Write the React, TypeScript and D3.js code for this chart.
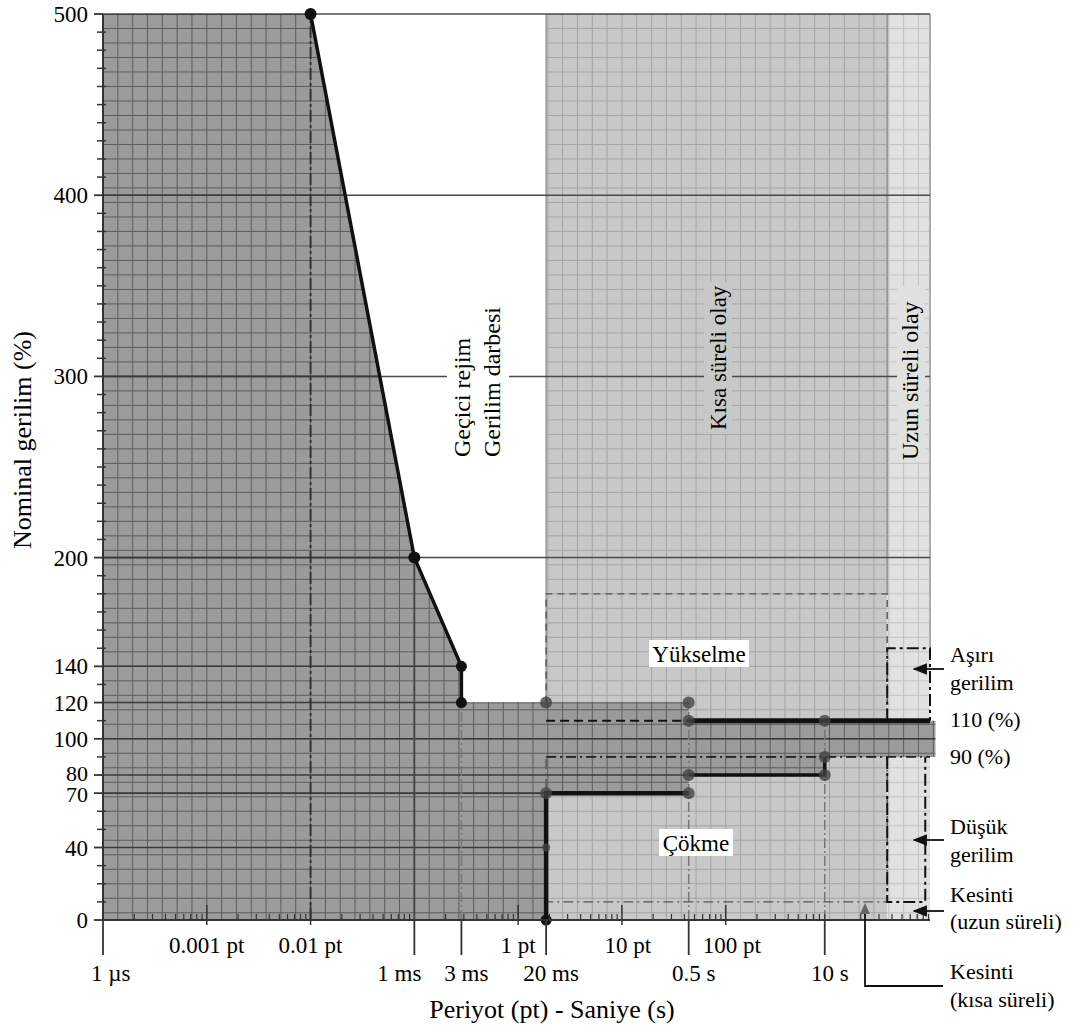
import React from 'react';
import * as d3 from 'd3';

const W = 1085;
const H = 1031;
const FONT = '"Liberation Serif", "Times New Roman", serif';

// pt = one 50 Hz period (20 ms). Seconds marks sit where the drawing places them on the pt axis
const T_1US = 1e-4;
const T_001PT = 0.01;
const T_1MS = 0.1;
const T_3MS = 0.284;
const T_20MS = 1.86;
const T_05S = 44;
const T_10S = 900;
const T_1MIN = 3600;
const T_END = 9300;
const T_BAND_END = 1.05e4;

const yTicks = [0, 40, 70, 80, 100, 120, 140, 200, 300, 400, 500];
const ptTicks = [0.001, 0.01, 1, 10, 100];
const ptTickLabels = ['0.001 pt', '0.01 pt', '1 pt', '10 pt', '100 pt'];
const secTicks = [T_1US, T_1MS, T_3MS, T_20MS, T_05S, T_10S];
const secTickLabels = ['1 µs', '1 ms', '3 ms', '20 ms', '0.5 s', '10 s'];

type P = [number, number];

// dark area: transient + tolerance band
const darkArea: P[] = [
  [T_1US, 0], [T_1US, 500], [T_001PT, 500], [T_1MS, 200], [T_3MS, 140], [T_3MS, 120],
  [T_05S, 120], [T_05S, 110], [T_BAND_END, 110], [T_BAND_END, 90], [T_10S, 90],
  [T_10S, 80], [T_05S, 80], [T_05S, 70], [T_20MS, 70], [T_20MS, 0],
];

const transientEdge: P[] = [[T_001PT, 500], [T_1MS, 200], [T_3MS, 140], [T_3MS, 120]];
const sagEdge: P[] = [[T_20MS, 0], [T_20MS, 70], [T_05S, 70]];
const lowEdge: P[] = [[T_05S, 80], [T_10S, 80], [T_10S, 90]];
const highEdge: P[] = [[T_05S, 110], [T_END, 110]];
const dashed110: P[] = [[T_20MS, 110], [T_05S, 110]];

const swellBox: P[] = [[T_20MS, 120], [T_20MS, 180], [T_1MIN, 180], [T_1MIN, 110]];
const sagBox: P[] = [[T_20MS, 90], [T_1MIN, 90], [T_1MIN, 10], [T_20MS, 10], [T_20MS, 90]];
const overBox: P[] = [[T_1MIN, 110], [T_1MIN, 150], [T_END, 150], [T_END, 110]];
const underBox: P[] = [[T_1MIN, 90], [T_1MIN, 10], [T_END * 0.9, 10], [T_END * 0.9, 90]];

const blackDots: P[] = [[T_001PT, 500], [T_1MS, 200], [T_3MS, 140], [T_3MS, 120], [T_20MS, 0]];
const grayDots: P[] = [
  [T_20MS, 120], [T_20MS, 70], [T_20MS, 40], [T_05S, 120], [T_05S, 110], [T_05S, 80],
  [T_05S, 70], [T_10S, 110], [T_10S, 90], [T_10S, 80],
];

const rightLabels = ['Aşırı', 'gerilim', '110 (%)', '90 (%)', 'Düşük', 'gerilim', 'Kesinti', '(uzun süreli)', 'Kesinti', '(kısa süreli)'];

export default function App() {
  const x = d3.scaleLog().domain([T_1US, T_END]).range([103, 930]);
  const y = d3.scaleLinear().domain([0, 500]).range([920, 14]);
  const line = d3.line<P>().x(d => x(d[0])).y(d => y(d[1]));

  const gridV = d3.range(0, 57).map(k => T_1US * Math.pow(10, k / 7));
  const gridH = d3.range(500, 0, -8);
  const minorY = d3.range(10, 500, 10).filter(v => !yTicks.includes(v));
  const minorX: number[] = [];
  for (let e = -4; e <= 3; e++) {
    for (let m = 2; m <= 9; m++) {
      const v = m * Math.pow(10, e);
      if (v < T_END) minorX.push(v);
    }
  }

  const grid = (stroke: string, clip: string) => (
    <g clipPath={`url(#${clip})`} stroke={stroke} strokeWidth={1}>
      {gridV.map((v, i) => <line key={'v' + i} x1={x(v)} x2={x(v)} y1={y(500)} y2={y(0)} />)}
      {gridH.map((v, i) => <line key={'h' + i} x1={x(T_1US)} x2={x(T_BAND_END)} y1={y(v)} y2={y(v)} />)}
    </g>
  );

  // 1 µs label sits right of its tick, 1 ms left of it, the rest centred
  const secAnchor = (i: number) => (i === 0 ? 'start' : i === 1 ? 'end' : 'middle');
  const secShift = (i: number) => (i === 0 ? -12 : i === 1 ? 7 : 5);

  const x20 = x(T_20MS), x1m = x(T_1MIN), xEnd = x(T_END);

  return (
    <svg width={W} height={H} style={{ position: 'absolute', left: 0, top: 0, background: '#fff' }} fontFamily={FONT}>
      <defs>
        <clipPath id="clipShort"><rect x={x20} y={y(500)} width={x1m - x20} height={y(0) - y(500)} /></clipPath>
        <clipPath id="clipLong"><rect x={x1m} y={y(500)} width={xEnd - x1m} height={y(0) - y(500)} /></clipPath>
        <clipPath id="clipDark"><path d={line(darkArea) + 'Z'} /></clipPath>
        <marker id="arr" viewBox="0 0 10 10" refX="9" refY="5" markerWidth="8" markerHeight="8" orient="auto-start-reverse">
          <path d="M0,1 L10,5 L0,9 Z" fill="#111" />
        </marker>
      </defs>

      {/* short and long duration zones */}
      <rect x={x20} y={y(500)} width={x1m - x20} height={y(0) - y(500)} fill="#c8c8c8" />
      <rect x={x1m} y={y(500)} width={xEnd - x1m} height={y(0) - y(500)} fill="#e1e1e1" />
      {grid('#a4a4a4', 'clipShort')}
      {grid('#c2c2c2', 'clipLong')}
      <line x1={x20} x2={x20} y1={y(500)} y2={y(120)} stroke="#9a9a9a" strokeWidth={1.5} />
      <line x1={x1m} x2={x1m} y1={y(500)} y2={y(180)} stroke="#9a9a9a" strokeWidth={2} />
      <line x1={xEnd} x2={xEnd} y1={y(500)} y2={y(150)} stroke="#aaa" strokeWidth={2} />

      {/* dark zone */}
      <path d={line(darkArea) + 'Z'} fill="#9b9b9b" />
      {grid('#5c5c5c', 'clipDark')}

      {/* major horizontal lines */}
      {yTicks.filter(v => v >= 200).map(v => (
        <line key={'M' + v} x1={x(T_1US)} x2={xEnd} y1={y(v)} y2={y(v)} stroke="#4a4a4a" strokeWidth={1.5} />
      ))}
      <g clipPath="url(#clipDark)">
        {yTicks.filter(v => v > 0).map(v => (
          <line key={'m' + v} x1={x(T_1US)} x2={x(T_BAND_END)} y1={y(v)} y2={y(v)} stroke="#3a3a3a" strokeWidth={1.6} />
        ))}
      </g>

      {/* vertical guides */}
      <line x1={x(T_001PT)} x2={x(T_001PT)} y1={y(0)} y2={y(500)} stroke="#333" strokeWidth={2} strokeDasharray="12,3,3,3" />
      <line x1={x(T_1MS)} x2={x(T_1MS)} y1={y(0)} y2={y(200)} stroke="#444" strokeWidth={1.8} />
      <line x1={x(T_3MS)} x2={x(T_3MS)} y1={y(0)} y2={y(120)} stroke="#777" strokeWidth={1.5} strokeDasharray="10,3,2,3" />
      <line x1={x(T_05S)} x2={x(T_05S)} y1={y(0)} y2={y(120)} stroke="#777" strokeWidth={1.5} strokeDasharray="10,3,2,3" />
      <line x1={x(T_10S)} x2={x(T_10S)} y1={y(0)} y2={y(110)} stroke="#777" strokeWidth={1.5} strokeDasharray="10,3,2,3" />

      {/* event boxes */}
      <path d={line(swellBox)!} fill="none" stroke="#555" strokeWidth={1.4} strokeDasharray="7,5" />
      <path d={line(sagBox)!} fill="none" stroke="#555" strokeWidth={1.4} strokeDasharray="10,4,2,4" />
      <path d={line(dashed110)!} fill="none" stroke="#111" strokeWidth={2} strokeDasharray="9,5" />
      <line x1={x20} x2={xEnd} y1={y(90)} y2={y(90)} stroke="#222" strokeWidth={1.8} strokeDasharray="10,4,2,4" />
      <path d={line(overBox)!} fill="none" stroke="#111" strokeWidth={2} strokeDasharray="12,4,3,4" />
      <path d={line(underBox)!} fill="none" stroke="#111" strokeWidth={2} strokeDasharray="12,4,3,4" />

      {/* limit curves */}
      <path d={line(transientEdge)!} fill="none" stroke="#111" strokeWidth={3.5} />
      <path d={line(sagEdge)!} fill="none" stroke="#111" strokeWidth={4.5} />
      <path d={line(lowEdge)!} fill="none" stroke="#111" strokeWidth={3.5} />
      <path d={line(highEdge)!} fill="none" stroke="#111" strokeWidth={5} />

      {grayDots.map((d, i) => (
        <circle key={'g' + i} cx={x(d[0])} cy={y(d[1])} r={d[1] === 40 ? 4 : 6} fill="#444" fillOpacity={0.8} />
      ))}
      {blackDots.map((d, i) => (
        <circle key={'b' + i} cx={x(d[0])} cy={y(d[1])} r={i < 2 ? 6 : 5.5} fill="#111" />
      ))}

      {/* axes */}
      <line x1={103} x2={103} y1={y(500)} y2={y(0)} stroke="#333" strokeWidth={2} />
      <line x1={103} x2={xEnd} y1={y(0)} y2={y(0)} stroke="#333" strokeWidth={2} />
      {minorY.map(v => <line key={'ty' + v} x1={97} x2={106} y1={y(v)} y2={y(v)} stroke="#333" strokeWidth={1.5} />)}
      {yTicks.map(v => (
        <g key={'yt' + v}>
          <line x1={94} x2={103} y1={y(v)} y2={y(v)} stroke="#333" strokeWidth={1.8} />
          <text x={88} y={y(v)} dy={v === 80 ? '0.28em' : v === 70 ? '0.42em' : '0.35em'} textAnchor="end" fontSize={v === 80 || v === 70 ? 22 : 23}>{v}</text>
        </g>
      ))}
      {minorX.map((v, i) => <line key={'tx' + i} x1={x(v)} x2={x(v)} y1={y(0) - 6} y2={y(0)} stroke="#333" strokeWidth={1.2} />)}
      {ptTicks.map((v, i) => (
        <g key={'pt' + v}>
          <line x1={x(v)} x2={x(v)} y1={y(0) - 15} y2={y(0) + 5} stroke="#333" strokeWidth={1.5} />
          <text x={x(v) + (v >= 10 ? 6 : 0)} y={953} textAnchor="middle" fontSize={23}>{ptTickLabels[i]}</text>
        </g>
      ))}
      {secTicks.map((v, i) => (
        <g key={'s' + v}>
          <line x1={x(v)} x2={x(v)} y1={y(0)} y2={955} stroke="#333" strokeWidth={1.8} />
          <text x={x(v) + secShift(i)} y={981} textAnchor={secAnchor(i)} fontSize={23}>{secTickLabels[i]}</text>
        </g>
      ))}

      {/* zone labels */}
      <rect x={447} y={300} width={62} height={160} fill="#fff" />
      <text transform="translate(470,457) rotate(-90)" fontSize={24}>Geçici rejim</text>
      <text transform="translate(500,457) rotate(-90)" fontSize={24}>Gerilim darbesi</text>
      <rect x={704} y={282} width={28} height={152} fill="#c8c8c8" />
      <text transform="translate(726,430) rotate(-90)" fontSize={23}>Kısa süreli olay</text>
      <rect x={897} y={286} width={28} height={176} fill="#e1e1e1" />
      <text transform="translate(918,460) rotate(-90)" fontSize={24}>Uzun süreli olay</text>

      <rect x={649} y={640} width={100} height={27} fill="#fff" />
      <text x={699} y={662} textAnchor="middle" fontSize={23}>Yükselme</text>
      <rect x={659} y={829} width={74} height={27} fill="#fff" />
      <text x={696} y={851} textAnchor="middle" fontSize={23}>Çökme</text>

      {/* right side legend */}
      {[662, 690, 727, 764, 834, 862, 902, 929, 979, 1007].map((yy, i) => (
        <text key={'r' + i} x={950} y={yy} fontSize={22}>{rightLabels[i]}</text>
      ))}
      {[669, 840, 911].map(yy => (
        <line key={'a' + yy} x1={944} x2={914} y1={yy} y2={yy} stroke="#111" strokeWidth={1.8} markerEnd="url(#arr)" />
      ))}
      <polyline points="943,986 865,986 865,912" fill="none" stroke="#111" strokeWidth={1.8} />
      <path d="M860,914 L865,903 L870,914 Z" fill="#666" />

      {/* axis titles */}
      <text transform="translate(31,440) rotate(-90)" textAnchor="middle" fontSize={26}>Nominal gerilim (%)</text>
      <text x={552} y={1018} textAnchor="middle" fontSize={26}>Periyot (pt) - Saniye (s)</text>
    </svg>
  );
}
